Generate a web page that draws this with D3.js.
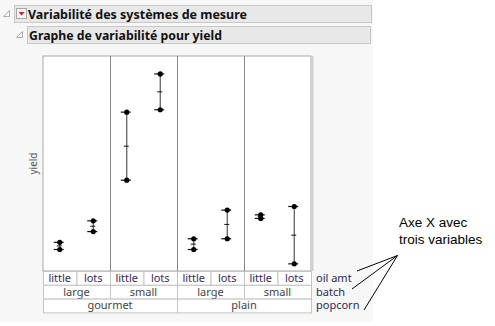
<!DOCTYPE html>
<html>
<head>
<meta charset="utf-8">
<script src="https://cdn.jsdelivr.net/npm/d3@7"></script>
<style>
  body { margin: 0; background: #fff; }
  text { font-family: "Noto Sans", "Open Sans", sans-serif; }
  text.note { font-family: "Liberation Sans", Arial, sans-serif; }
</style>
</head>
<body>
<div id="chart"></div>
<script>
// data
const popcorn = ["gourmet", "plain"];
const batch = ["large", "small"];
const oilAmt = ["little", "lots"];
const yieldA = [8.4, 10.2, 19.3, 22.5, 8.7, 11.1, 10.7, 11.4];
const yieldB = [7.8, 9.3, 13.6, 19.5, 7.8, 8.7, 10.4, 6.6];
const rowNames = ["oil amt", "batch", "popcorn"];

const width = 495, height = 326;
const plotLeft = 43, plotRight = 311, plotTop = 56, plotBottom = 271;
const rowH = 13.8;

const svg = d3.select("#chart").append("svg")
  .attr("width", width).attr("height", height);

// outline background
svg.append("rect").attr("x", 0).attr("y", 0).attr("width", 373).attr("height", 322).attr("fill", "#f7f7f7");

// header bars
svg.append("rect").attr("x", 14.5).attr("y", 5.5).attr("width", 357).attr("height", 17)
  .attr("fill", "#e8e8e8").attr("stroke", "#c8c8c8");
svg.append("rect").attr("x", 27.5).attr("y", 26.5).attr("width", 343).attr("height", 17)
  .attr("fill", "#e8e8e8").attr("stroke", "#c8c8c8");

// disclosure triangles
let tri = (x, y) => svg.append("path")
  .attr("d", `M${x + 6},${y} L${x + 6},${y + 6} L${x},${y + 6} Z`)
  .attr("fill", "none").attr("stroke", "#999").attr("stroke-width", 0.8);
tri(3.5, 10.5);
tri(16.5, 31.5);

// red menu icon
svg.append("rect").attr("x", 16.5).attr("y", 8.5).attr("width", 10).attr("height", 10)
  .attr("fill", "#f4f4f4").attr("stroke", "#a8a8a8");
svg.append("path").attr("d", "M18.5,12 L24.5,12 L21.5,15.5 Z").attr("fill", "#d21f1f");

svg.append("text").attr("x", 28).attr("y", 19).attr("font-size", 12.5).attr("font-weight", "bold")
  .attr("fill", "#111").attr("textLength", 219).attr("lengthAdjust", "spacingAndGlyphs")
  .text("Variabilité des systèmes de mesure");
svg.append("text").attr("x", 29).attr("y", 40).attr("font-size", 12.5).attr("font-weight", "bold")
  .attr("fill", "#111").attr("textLength", 193).attr("lengthAdjust", "spacingAndGlyphs")
  .text("Graphe de variabilité pour yield");

// scales
const cells = d3.range(yieldA.length);
const x = d3.scaleBand().domain(cells).range([plotLeft, plotRight]);
const y = d3.scaleLinear().domain([6, 24]).range([plotBottom, plotTop]);

// plot frame
svg.append("rect").attr("x", plotLeft).attr("y", plotTop).attr("width", plotRight - plotLeft).attr("height", plotBottom - plotTop)
  .attr("fill", "#fff").attr("stroke", "#a8a8a8");
svg.append("line").attr("x1", plotRight + 1.5).attr("x2", plotRight + 1.5).attr("y1", plotTop).attr("y2", plotBottom)
  .attr("stroke", "#d0d0d0").attr("stroke-width", 2);
[2, 4, 6].forEach(i => {
  svg.append("line").attr("x1", x(i) + 0.5).attr("x2", x(i) + 0.5).attr("y1", plotTop).attr("y2", plotBottom)
    .attr("stroke", "#888");
});

svg.append("text").attr("transform", `translate(37,${(plotTop + plotBottom) / 2}) rotate(-90)`)
  .attr("text-anchor", "middle").attr("font-size", 10).attr("fill", "#555").text("yield");

// range bars
const g = svg.append("g");
cells.forEach(i => {
  let cx = x(i) + x.bandwidth() / 2;
  let a = yieldA[i], b = yieldB[i];
  let m = (a + b) / 2;
  g.append("line").attr("x1", cx).attr("x2", cx).attr("y1", y(a)).attr("y2", y(b))
    .attr("stroke", "#555").attr("stroke-width", 1.2);
  [a, b].forEach(v => {
    g.append("line").attr("x1", cx - 6).attr("x2", cx + 4).attr("y1", y(v)).attr("y2", y(v))
      .attr("stroke", "#111").attr("stroke-width", 1.2);
    g.append("circle").attr("cx", cx).attr("cy", y(v)).attr("r", 2.6).attr("fill", "#000");
  });
  g.append("line").attr("x1", cx - 3).attr("x2", cx + 2).attr("y1", y(m)).attr("y2", y(m))
    .attr("stroke", "#111").attr("stroke-width", 1);
});

// x axis label table
const rows = [
  { labels: cells.map(i => oilAmt[i % 2]), span: 1, color: "#3a2a5a" },
  { labels: [0, 1, 2, 3].map(i => batch[i % 2]), span: 2, color: "#444" },
  { labels: popcorn, span: 4, color: "#444" }
];
rows.forEach((r, ri) => {
  let ry = plotBottom + ri * rowH;
  r.labels.forEach((lab, j) => {
    let x0 = x(j * r.span), x1 = j * r.span + r.span >= cells.length ? plotRight : x((j + 1) * r.span);
    svg.append("rect").attr("x", x0 + 0.5).attr("y", ry + 0.5).attr("width", x1 - x0).attr("height", rowH)
      .attr("fill", "#fff").attr("stroke", "#c4c4c4");
    svg.append("text").attr("x", (x0 + x1) / 2).attr("y", ry + 10.8).attr("text-anchor", "middle")
      .attr("font-size", 11).attr("fill", r.color).text(lab);
  });
  svg.append("text").attr("x", 316).attr("y", ry + 10.8).attr("font-size", 11)
    .attr("fill", "#2a2a55").text(rowNames[ri]);
});

// annotation
svg.append("text").attr("class", "note").attr("x", 399).attr("y", 227)
  .attr("font-size", 13.5).attr("fill", "#000").text("Axe X avec");
svg.append("text").attr("class", "note").attr("x", 399).attr("y", 244)
  .attr("font-size", 13.5).attr("fill", "#000").text("trois variables");
const hub = [397.5, 255.5];
[[357, 271], [352, 289], [364, 310]].forEach(p => {
  svg.append("line").attr("x1", hub[0]).attr("y1", hub[1]).attr("x2", p[0]).attr("y2", p[1])
    .attr("stroke", "#000").attr("stroke-width", 1);
});
</script>
</body>
</html>
